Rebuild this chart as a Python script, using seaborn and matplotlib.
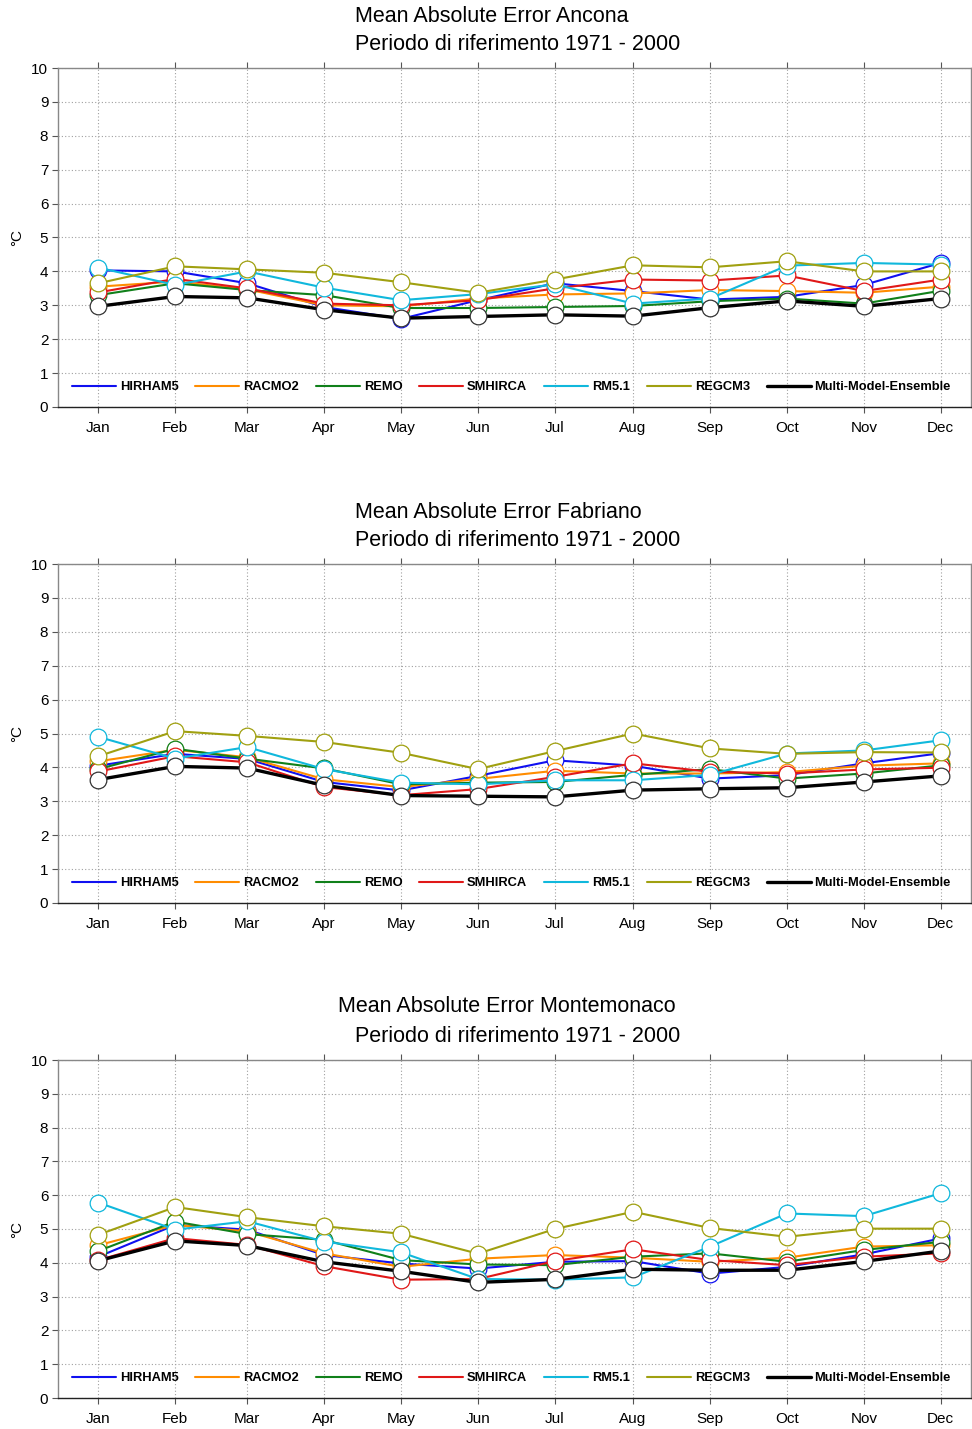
import numpy as np
import pandas as pd
import seaborn as sns
import matplotlib
matplotlib.use("Agg")
import matplotlib.pyplot as plt
from matplotlib.lines import Line2D

# Month labels and mid-month day-of-year positions
months = ["Jan", "Feb", "Mar", "Apr", "May", "Jun",
          "Jul", "Aug", "Sep", "Oct", "Nov", "Dec"]
month_days = [15.5, 46, 74.5, 105, 135.5, 166, 196.5, 227.5, 258, 288.5, 319, 349.5]

models = ["HIRHAM5", "RACMO2", "REMO", "SMHIRCA", "RM5.1", "REGCM3",
          "Multi-Model-Ensemble"]

# Mean absolute error (°C) per model, Ancona
ancona_hirham5 = [4.03, 4.00, 3.65, 2.95, 2.60, 3.15, 3.65, 3.42, 3.17, 3.25, 3.60, 4.25]
ancona_racmo2 = [3.55, 3.70, 3.47, 3.00, 2.97, 3.20, 3.32, 3.35, 3.45, 3.42, 3.37, 3.55]
ancona_remo = [3.30, 3.65, 3.45, 3.30, 2.92, 2.92, 2.95, 2.98, 3.12, 3.20, 3.05, 3.43]
ancona_smhirca = [3.38, 3.78, 3.50, 3.05, 3.00, 3.15, 3.50, 3.76, 3.73, 3.88, 3.42, 3.76]
ancona_rm51 = [4.11, 3.60, 4.00, 3.52, 3.15, 3.33, 3.62, 3.05, 3.20, 4.17, 4.25, 4.20]
ancona_regcm3 = [3.65, 4.15, 4.06, 3.96, 3.68, 3.37, 3.76, 4.18, 4.12, 4.30, 4.00, 4.00]
ancona_mme = [2.97, 3.26, 3.22, 2.87, 2.62, 2.67, 2.72, 2.68, 2.93, 3.13, 2.97, 3.20]

# Fabriano
fabriano_hirham5 = [4.05, 4.40, 4.25, 3.57, 3.32, 3.75, 4.21, 4.05, 3.67, 3.77, 4.12, 4.42]
fabriano_racmo2 = [4.18, 4.52, 4.30, 3.65, 3.42, 3.66, 3.90, 3.82, 3.82, 3.86, 4.05, 4.12]
fabriano_remo = [3.95, 4.55, 4.26, 3.97, 3.50, 3.55, 3.57, 3.78, 3.95, 3.67, 3.82, 4.06]
fabriano_smhirca = [3.88, 4.33, 4.15, 3.42, 3.18, 3.36, 3.72, 4.12, 3.87, 3.82, 3.94, 3.99]
fabriano_rm51 = [4.90, 4.26, 4.60, 3.95, 3.55, 3.50, 3.62, 3.62, 3.78, 4.41, 4.50, 4.80]
fabriano_regcm3 = [4.33, 5.07, 4.93, 4.75, 4.43, 3.95, 4.48, 5.00, 4.56, 4.40, 4.45, 4.44]
fabriano_mme = [3.64, 4.03, 3.98, 3.47, 3.17, 3.15, 3.13, 3.33, 3.37, 3.40, 3.57, 3.75]

# Montemonaco
montemonaco_hirham5 = [4.18, 5.12, 4.98, 4.23, 3.98, 3.83, 4.03, 4.05, 3.68, 3.88, 4.25, 4.72]
montemonaco_racmo2 = [4.52, 5.12, 4.93, 4.28, 3.88, 4.12, 4.23, 4.15, 4.03, 4.15, 4.48, 4.52]
montemonaco_remo = [4.35, 5.22, 4.85, 4.68, 4.08, 3.95, 3.93, 4.18, 4.28, 4.03, 4.38, 4.62]
montemonaco_smhirca = [4.08, 4.73, 4.53, 3.90, 3.50, 3.52, 4.05, 4.40, 4.08, 3.93, 4.18, 4.28]
montemonaco_rm51 = [5.78, 4.98, 5.23, 4.63, 4.31, 3.52, 3.50, 3.57, 4.48, 5.46, 5.38, 6.06]
montemonaco_regcm3 = [4.83, 5.65, 5.35, 5.08, 4.86, 4.27, 5.00, 5.51, 5.03, 4.77, 5.01, 5.01]
montemonaco_mme = [4.06, 4.65, 4.51, 4.03, 3.75, 3.42, 3.51, 3.81, 3.78, 3.78, 4.04, 4.35]

stations = ["Ancona", "Fabriano", "Montemonaco"]
station_series = {
    "Ancona": [ancona_hirham5, ancona_racmo2, ancona_remo, ancona_smhirca,
               ancona_rm51, ancona_regcm3, ancona_mme],
    "Fabriano": [fabriano_hirham5, fabriano_racmo2, fabriano_remo, fabriano_smhirca,
                 fabriano_rm51, fabriano_regcm3, fabriano_mme],
    "Montemonaco": [montemonaco_hirham5, montemonaco_racmo2, montemonaco_remo,
                    montemonaco_smhirca, montemonaco_rm51, montemonaco_regcm3,
                    montemonaco_mme],
}

colors = ["#1010f0", "#ff8c00", "#10801a", "#e01818", "#10b8dc", "#a0a010", "#000000"]
widths = [1.5, 1.5, 1.5, 1.5, 1.5, 1.5, 2.4]

sns.set_theme(style="white")
plt.rcParams["font.family"] = ["Liberation Sans", "DejaVu Sans"]
plt.rcParams["text.color"] = "black"
plt.rcParams["xtick.labelcolor"] = "black"
plt.rcParams["ytick.labelcolor"] = "black"

fig = plt.figure(figsize=(9.72, 14.29), dpi=100)

W, H = 972.0, 1429.0
panel_px = [(68, 407), (564, 903), (1060, 1398)]
title_px = [(355, 16, 45), (355, 512, 541), (338, 1007, 1036)]

for k, station in enumerate(stations):
    top, bot = panel_px[k]
    ax = fig.add_axes([58 / W, 1 - bot / H, (971 - 58) / W, (bot - top) / H])

    for name, vals, col, lw in zip(models, station_series[station], colors, widths):
        df = pd.DataFrame({"day": month_days, "mae": vals})
        sns.lineplot(data=df, x="day", y="mae", ax=ax, color=col, linewidth=lw,
                     marker="o", markersize=12, markerfacecolor="white",
                     markeredgecolor=col if name != "Multi-Model-Ensemble" else "#333333",
                     markeredgewidth=0.9, legend=False, zorder=3)

    ax.set_xlim(-0.5, 361.5)
    ax.set_ylim(0, 10)
    ax.set_xticks(month_days)
    ax.set_xticklabels(months)
    ax.set_yticks(range(0, 11))
    ax.set_xlabel("")
    ax.set_ylabel("")

    ax.grid(True, linestyle=(0, (1, 2)), color="#a0a0a0", linewidth=0.8)
    ax.tick_params(axis="x", which="both", top=True, bottom=True, direction="out",
                   length=4, width=0.8, color="#555555", labelsize=11, pad=6,
                   labelcolor="black")
    ax.tick_params(axis="y", which="both", left=True, direction="out",
                   length=4, width=0.8, color="#555555", labelsize=11, pad=3,
                   labelcolor="black")
    for side, sp in ax.spines.items():
        sp.set_visible(True)
        sp.set_linewidth(1.0)
        sp.set_color("#888888")
    ax.spines["bottom"].set_color("#222222")

    handles = [Line2D([0], [0], color=c, lw=lw) for c, lw in zip(colors, widths)]
    ax.legend(handles, models, loc="center left", bbox_to_anchor=(0.0153, 0.058),
              ncol=7, frameon=False, handlelength=3.42, handletextpad=0.3,
              columnspacing=1.32, borderpad=0, borderaxespad=0,
              prop={"weight": "bold", "size": 9.25}, labelcolor="black")

    fig.text(17 / W, 1 - (top + bot) / 2 / H, "°C", fontsize=11, rotation=90,
             ha="center", va="center", color="black")

    tx, y1, y2 = title_px[k]
    fig.text(tx / W, 1 - y1 / H, f"Mean Absolute Error {station}", fontsize=15.5,
             ha="left", va="center", color="black")
    fig.text(355 / W, 1 - y2 / H, "Periodo di riferimento 1971 - 2000", fontsize=15.5,
             ha="left", va="center", color="black")

fig.savefig("out.png", dpi=100)
